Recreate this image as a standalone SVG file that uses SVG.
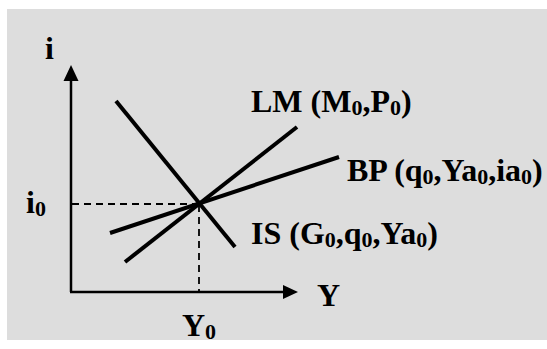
<svg xmlns="http://www.w3.org/2000/svg" width="547" height="349" viewBox="0 0 547 349">
  <defs>
    <style>
      .lbl { font-family: "Liberation Serif", "Times New Roman", serif; font-weight: bold; font-size: 32px; fill: #000; }
      .sub { font-size: 22px; }
      .axis { stroke: #000; stroke-width: 2.5; fill: none; }
      .curve { stroke: #000; stroke-width: 4; fill: none; }
      .dash { stroke: #000; stroke-width: 1.8; stroke-dasharray: 7 5; fill: none; }
    </style>
  </defs>
  <rect x="0" y="0" width="547" height="349" fill="#ffffff"/>
  <rect x="7" y="9" width="540" height="331" fill="#dddddd"/>

  <g id="connectors">
    <line class="axis" x1="71" y1="292" x2="71" y2="78"/>
    <polygon points="71,65 63.5,81 78.5,81" fill="#000"/>
    <line class="axis" x1="70" y1="292" x2="286" y2="292"/>
    <polygon points="298,292 283,285 283,299" fill="#000"/>
    <line class="dash" x1="72" y1="204" x2="200" y2="204"/>
    <line class="dash" x1="199" y1="205" x2="199" y2="291"/>
  </g>

  <g id="IS">
    <line class="curve" x1="116" y1="101" x2="235" y2="247"/>
    <text class="lbl" x="251" y="244">IS (G<tspan class="sub" dy="3">0</tspan><tspan dy="-3">,q</tspan><tspan class="sub" dy="3">0</tspan><tspan dy="-3">,Ya</tspan><tspan class="sub" dy="3">0</tspan><tspan dy="-3">)</tspan></text>
  </g>

  <g id="LM">
    <line class="curve" x1="125" y1="262" x2="297" y2="127"/>
    <text class="lbl" x="251" y="112">LM (M<tspan class="sub" dy="3">0</tspan><tspan dy="-3">,P</tspan><tspan class="sub" dy="3">0</tspan><tspan dy="-3">)</tspan></text>
  </g>

  <g id="BP">
    <line class="curve" x1="110" y1="233" x2="339" y2="157"/>
    <text class="lbl" x="347" y="181">BP (q<tspan class="sub" dy="3">0</tspan><tspan dy="-3">,Ya</tspan><tspan class="sub" dy="3">0</tspan><tspan dy="-3">,ia</tspan><tspan class="sub" dy="3">0</tspan><tspan dy="-3">)</tspan></text>
  </g>

  <g id="axis-labels">
    <text class="lbl" x="45" y="59">i</text>
    <text class="lbl" x="26" y="213">i<tspan class="sub" dy="3">0</tspan></text>
    <text class="lbl" x="317" y="306">Y</text>
    <text class="lbl" x="182" y="336">Y<tspan class="sub" dy="3">0</tspan></text>
  </g>
</svg>
